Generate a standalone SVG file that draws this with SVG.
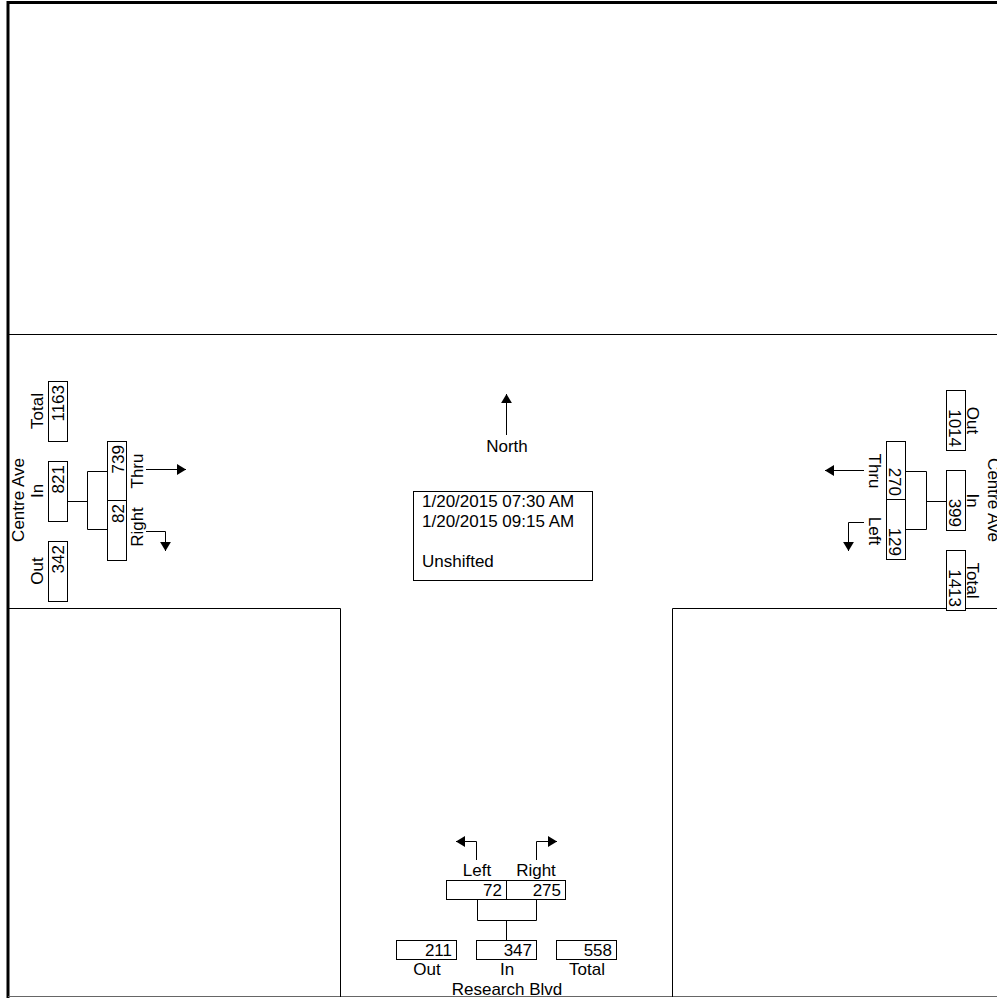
<svg xmlns="http://www.w3.org/2000/svg" width="997" height="998" viewBox="0 0 997 998">
<style>
text{font-family:"Liberation Sans",Arial,sans-serif;font-size:17px;fill:#000}
.b{fill:#fff;stroke:#000;stroke-width:1}
.l{fill:none;stroke:#000;stroke-width:1}
.a{fill:none;stroke:#000;stroke-width:1;marker-end:url(#ah)}
.m{text-anchor:middle}
.e{text-anchor:end}
</style>
<defs>
<marker id="ah" viewBox="0 0 10 12" refX="10" refY="6" markerWidth="9" markerHeight="12" markerUnits="userSpaceOnUse" orient="auto">
<path d="M0,0 L10,6 L0,12 z" fill="#000"/>
</marker>
</defs>
<rect width="997" height="998" fill="#fff"/>
<g id="frame">
<line x1="7.5" y1="2.5" x2="997" y2="2.5" stroke="#000" stroke-width="3"/>
<line x1="8" y1="1" x2="8" y2="998" stroke="#000" stroke-width="3"/>
<line x1="8" y1="334.5" x2="997" y2="334.5" stroke="#000" stroke-width="1"/>
<line x1="8" y1="996.5" x2="997" y2="996.5" stroke="#666" stroke-width="1"/>
<path class="l" d="M8,608.5 H340.5 V997"/>
<path class="l" d="M997,608.5 H672.5 V997"/>
</g>
<g id="connectors">
<path class="l" d="M67,501.5 H87.5"/>
<path class="l" d="M107,471.5 H87.5 V529.5 H107"/>
<path class="l" d="M946,501.5 H926.5"/>
<path class="l" d="M906,471.5 H926.5 V529.5 H906"/>
<path class="l" d="M477.5,900 V920.5 H536.5 V900"/>
<path class="l" d="M506.5,920.5 V941"/>
<path class="a" d="M146,469.5 H186"/>
<path class="a" d="M146,531.5 H165.5 V551"/>
<path class="a" d="M864,470.5 H825"/>
<path class="a" d="M864,522.5 H848.5 V551"/>
<path class="a" d="M476.5,860 V841.5 H456"/>
<path class="a" d="M536.5,860 V841.5 H557"/>
<path class="a" d="M506.5,435 V394"/>
</g>
<g id="north">
<text class="m" x="507" y="452">North</text>
</g>
<g id="info">
<rect class="b" x="413.5" y="491.5" width="179" height="89"/>
<text x="422" y="507">1/20/2015 07:30 AM</text>
<text x="422" y="527">1/20/2015 09:15 AM</text>
<text x="422" y="567">Unshifted</text>
</g>
<g id="west">
<rect class="b" x="48.5" y="381.5" width="19" height="60"/>
<rect class="b" x="48.5" y="461.5" width="19" height="60"/>
<rect class="b" x="48.5" y="541.5" width="19" height="60"/>
<rect class="b" x="107.5" y="441.5" width="19" height="59"/>
<rect class="b" x="107.5" y="500.5" width="19" height="60"/>
<text class="e" transform="translate(64,385) rotate(-90)">1163</text>
<text class="e" transform="translate(64,465) rotate(-90)">821</text>
<text class="e" transform="translate(64,545) rotate(-90)">342</text>
<text class="e" transform="translate(124,445) rotate(-90)">739</text>
<text class="e" transform="translate(124,504) rotate(-90)">82</text>
<text class="m" transform="translate(43,411) rotate(-90)">Total</text>
<text class="m" transform="translate(43,491) rotate(-90)">In</text>
<text class="m" transform="translate(43,571) rotate(-90)">Out</text>
<text class="m" transform="translate(24,500) rotate(-90)">Centre Ave</text>
<text class="m" transform="translate(143,471) rotate(-90)">Thru</text>
<text class="m" transform="translate(143,527) rotate(-90)">Right</text>
</g>
<g id="east">
<rect class="b" x="946.5" y="390.5" width="19" height="60"/>
<rect class="b" x="946.5" y="470.5" width="19" height="60"/>
<rect class="b" x="946.5" y="550.5" width="19" height="60"/>
<rect class="b" x="886.5" y="441.5" width="19" height="58"/>
<rect class="b" x="886.5" y="499.5" width="19" height="60"/>
<text class="e" transform="translate(949,447) rotate(90)">1014</text>
<text class="e" transform="translate(949,527) rotate(90)">399</text>
<text class="e" transform="translate(949,607) rotate(90)">1413</text>
<text class="e" transform="translate(889,496) rotate(90)">270</text>
<text class="e" transform="translate(889,556) rotate(90)">129</text>
<text class="m" transform="translate(967,420.5) rotate(90)">Out</text>
<text class="m" transform="translate(967,500.5) rotate(90)">In</text>
<text class="m" transform="translate(967,580.5) rotate(90)">Total</text>
<text class="m" transform="translate(988,500) rotate(90)">Centre Ave</text>
<text class="m" transform="translate(869,471) rotate(90)">Thru</text>
<text class="m" transform="translate(869,531) rotate(90)">Left</text>
</g>
<g id="south">
<rect class="b" x="446.5" y="880.5" width="60" height="19"/>
<rect class="b" x="506.5" y="880.5" width="59" height="19"/>
<rect class="b" x="396.5" y="940.5" width="60" height="19"/>
<rect class="b" x="476.5" y="940.5" width="60" height="19"/>
<rect class="b" x="556.5" y="940.5" width="60" height="19"/>
<text class="e" x="502" y="896">72</text>
<text class="e" x="561" y="896">275</text>
<text class="e" x="452" y="956">211</text>
<text class="e" x="532" y="956">347</text>
<text class="e" x="612" y="956">558</text>
<text class="m" x="477" y="876">Left</text>
<text class="m" x="536" y="876">Right</text>
<text class="m" x="427" y="975">Out</text>
<text class="m" x="507" y="975">In</text>
<text class="m" x="587" y="975">Total</text>
<text class="m" x="507" y="995">Research Blvd</text>
</g>
</svg>
